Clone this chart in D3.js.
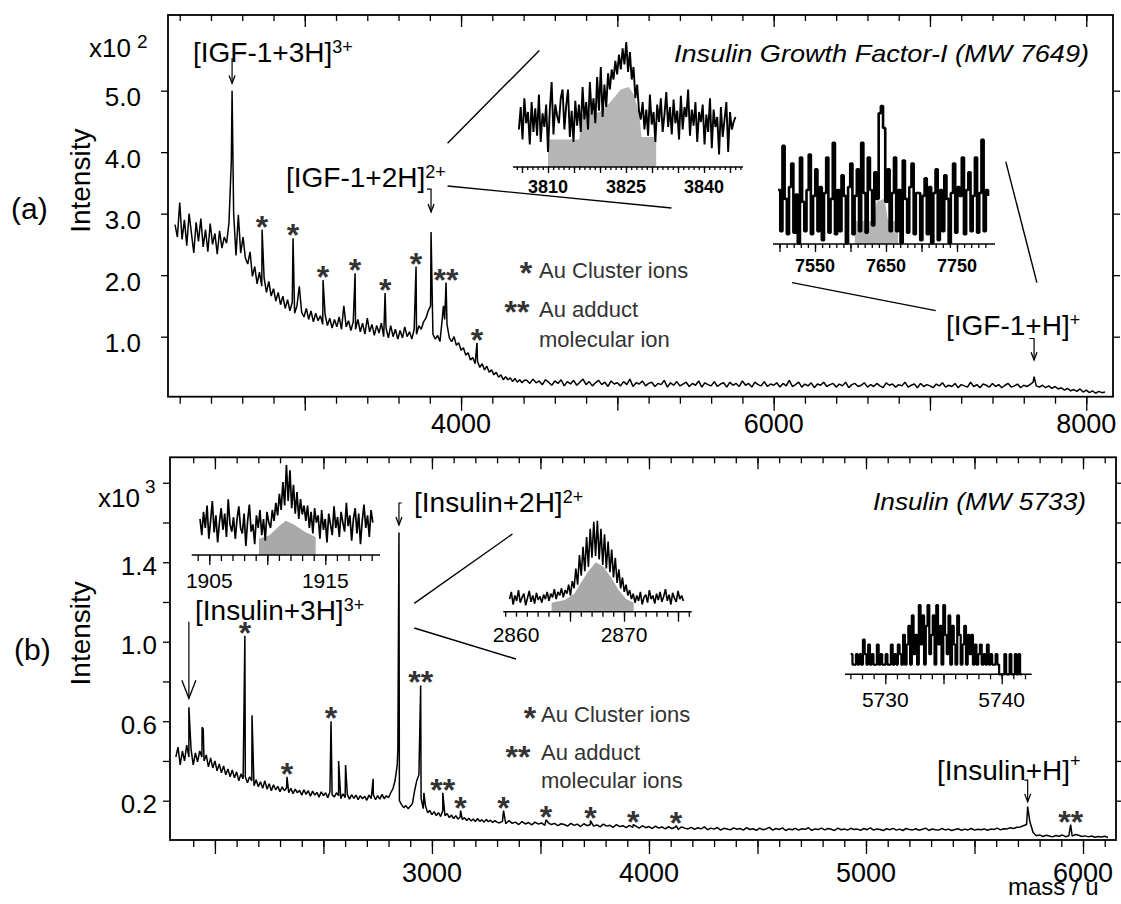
<!DOCTYPE html>
<html>
<head>
<meta charset="utf-8">
<script src="https://cdn.jsdelivr.net/npm/d3@7"></script>
<style>
  body { margin: 0; background: #fff; }
  svg text { font-family: "Liberation Sans", Arial, sans-serif; }
</style>
</head>
<body>
<svg id="chart" width="1121" height="904"></svg>
<script>
// ---------------- data ----------------

// (a) IGF-1 spectrum, intensity in units of 0.01 x10^2
const igfStart = 2170, igfStep = 15;
const igfBase = [
  282, 262, 318, 258, 290, 248, 300, 268, 236, 286,
  255, 292, 246, 274, 238, 284, 250, 268, 234, 272,
  244, 262, 252, 285, 384, 300, 232, 298, 236, 262,
  228, 218, 238, 198, 214, 186, 205, 182, 195, 172,
  190, 166, 178, 158, 172, 152, 166, 146, 160, 142,
  156, 138, 150, 182, 140, 132, 146, 128, 142, 124,
  138, 126, 134, 120, 136, 118, 130, 114, 128, 116,
  132, 112, 150, 116, 126, 110, 124, 112, 128, 108,
  122, 104, 130, 108, 120, 102, 118, 106, 122, 100,
  114, 98, 118, 100, 112, 96, 110, 98, 116, 100,
  108, 96, 112, 104, 118, 112, 124, 130, 142, 150,
  104, 96, 102, 92, 130, 128, 120, 98, 92, 100,
  86, 90, 78, 82, 70, 74, 62, 66, 56, 60,
  50, 56, 46, 52, 42, 46, 38, 42, 34, 38,
  30, 35, 30, 33, 27, 32, 26, 30, 25, 29
];
const igfTailStart = 4420, igfTailStep = 20;
const igfTail = [
  29, 24, 31, 25, 28, 22, 30, 26, 21, 28,
  24, 30, 20, 27, 23, 29, 21, 26, 31, 22,
  27, 20, 25, 29, 22, 26, 19, 28, 23, 25,
  20, 27, 22, 31, 19, 25, 23, 28, 20, 24,
  26, 19, 24, 22, 29, 18, 25, 21, 27, 20,
  23, 26, 19, 24, 21, 28, 18, 25, 22, 20,
  27, 19, 23, 25, 18, 26, 21, 24, 19, 28,
  21, 24, 18, 26, 22, 20, 27, 19, 23, 21,
  25, 18, 24, 20, 29, 19, 22, 26, 18, 23,
  20, 25, 17, 23, 21, 26, 19, 22, 24, 18,
  23, 20, 26, 17, 22, 24, 19, 21, 25, 18,
  22, 19, 24, 20, 17, 25, 21, 23, 18, 22,
  20, 26, 18, 21, 23, 17, 24, 19, 22, 20,
  17, 23, 20, 25, 18, 21, 19, 24, 17, 22,
  20, 18, 26, 19, 22, 17, 23, 21, 18, 24,
  19, 22, 17, 21, 24, 18, 20, 23, 17, 21,
  19, 22, 26, 20, 18, 21, 17, 20, 16, 19,
  15, 17, 13, 16, 12, 14, 11, 15, 10, 13,
  9, 12, 8, 11, 9, 10
];
// [mass, intensity, marker]
const igfPeaks = [
  [2535, 500, ''], [2727, 274, '*'], [2925, 260, '*'], [3117, 192, '*'],
  [3322, 203, '*'], [3514, 171, '*'], [3712, 214, '*'], [3808, 270, ''],
  [3887, 150, ''], [3904, 188, '**'], [4102, 90, '*'], [7666, 35, '']
];

// (b) insulin spectrum, intensity in units of 0.001 x10^3
const insStart = 1820, insStep = 10;
const insBase = [
  420, 470, 380, 450, 400, 480, 420, 460, 380, 440,
  395, 450, 420, 400, 430, 370, 415, 365, 400, 350,
  385, 340, 375, 330, 360, 320, 355, 315, 345, 300,
  335, 310, 320, 290, 320, 300, 275, 305, 270, 295,
  262, 300, 258, 285, 250, 280, 255, 272, 245, 270,
  250, 265, 240, 262, 235, 258, 240, 252, 228, 255,
  232, 250, 222, 248, 228, 242, 218, 245, 225, 240,
  215, 245, 230, 218, 240, 225, 210, 235, 215, 232,
  208, 230, 212, 228, 205, 225, 210, 222, 202, 228,
  210, 230, 205, 225, 208, 232, 210, 225, 215, 240,
  260, 300, 380, 200, 180, 165, 175, 160, 172, 185,
  250, 300, 330, 210, 160, 175, 140, 150, 130, 145,
  125, 140, 120, 150, 125, 135, 115, 128, 110, 125,
  108, 118, 105, 115, 100, 112, 98, 108, 95, 110,
  96, 104, 92, 106, 94, 102, 90, 100, 92
];
const insTailStart = 3310, insTailStep = 15;
const insTail = [
  88, 96, 84, 100, 86, 92, 80, 95, 83, 90,
  78, 92, 82, 88, 76, 90, 80, 86, 74, 84,
  80, 72, 86, 76, 82, 70, 84, 74, 80, 72,
  78, 68, 82, 72, 76, 66, 80, 70, 74, 64,
  76, 66, 72, 62, 74, 64, 70, 60, 72, 62,
  68, 58, 70, 60, 66, 56, 68, 62, 58, 66,
  56, 64, 58, 68, 54, 62, 57, 65, 52, 61,
  58, 53, 63, 56, 60, 52, 64, 55, 59, 51,
  62, 54, 58, 66, 52, 60, 55, 63, 50, 58,
  54, 61, 52, 59, 56, 64, 51, 58, 55, 62,
  53, 60, 56, 50, 62, 54, 58, 52, 61, 55,
  57, 51, 60, 54, 63, 52, 58, 55, 50, 59,
  54, 61, 52, 57, 50, 60, 55, 53, 59, 51,
  56, 62, 50, 58, 54, 52, 60, 53, 57, 50,
  55, 59, 51, 57, 53, 60, 52, 56, 54, 58,
  51, 57, 55, 62, 53, 59, 58, 64, 60, 66,
  68, 74, 80, 95, 40, 24, 28, 20, 26, 22,
  18, 25, 21, 27, 19, 24, 22, 30, 26, 20,
  23, 18, 22, 16, 20, 17, 21, 15
];
const insPeaks = [
  [1880, 670, ''], [1941, 570, ''], [1946, 560, ''], [2138, 1030, '*'],
  [2171, 630, ''], [2332, 320, '*'], [2535, 600, '*'], [2570, 400, ''],
  [2602, 380, ''], [2729, 310, ''], [2843, 460, ''], [2848, 1550, ''],
  [2948, 780, '**'], [2963, 240, ''], [3050, 240, '**'], [3132, 150, '*'],
  [3330, 150, '*'], [3526, 104, '*'], [3730, 100, '*'], [3928, 80, '*'],
  [4125, 75, '*'], [5745, 170, ''], [5943, 80, '**']
];

// zoomed insets, relative intensity 0-100
const zoomA1 = [
  30, 48, 22, 55, 35, 44, 18, 52, 28, 47, 25, 58, 20, 43, 32, 50,
  12, 46, 68, 26, 50, 41, 35, 55, 62, 30, 49, 62, 24, 45, 20, 53, 33,
  50, 28, 64, 38, 52, 30, 68, 42, 55, 35, 72, 45, 80, 40, 66, 48, 75,
  62, 78, 70, 85, 74, 90, 78, 95, 82, 100, 76, 92, 70, 80, 55, 66, 45,
  38, 52, 30, 46, 25, 58, 34, 44, 20, 50, 36, 55, 28, 42, 60, 32, 48,
  26, 54, 35, 45, 22, 57, 30, 48, 40, 62, 25, 46, 33, 52, 20, 44, 36,
  50, 18, 42, 28, 55, 15, 46, 32, 40, 10, 48, 24, 38, 52, 12, 44, 30, 36, 40
];
const zoomA1Fill = [[3810, 22], [3816, 22], [3816.5, 42], [3820, 44], [3822, 52], [3824, 62],
  [3825.5, 64], [3826.5, 58], [3827.5, 43], [3828, 24], [3830.8, 24]];

const zoomA2 = [
  48, 20, 78, 42, 18, 50, 66, 19, 45, 12, 70, 40, 20, 48, 72, 18,
  44, 62, 20, 50, 14, 46, 70, 19, 42, 80, 18, 48, 20, 58, 44, 12,
  50, 66, 18, 44, 62, 20, 80, 46, 19, 70, 48, 24, 60, 42, 100, 105,
  90, 40, 62, 20, 46, 70, 20, 48, 12, 68, 42, 19, 50, 66, 18, 46,
  46, 14, 44, 56, 18, 50, 12, 46, 62, 14, 48, 20, 58, 42, 12, 46,
  66, 19, 50, 44, 70, 18, 48, 60, 20, 44, 70, 19, 46, 82, 20, 48,
  44
];
const zoomA2Fill = [[7606, 27], [7632, 27], [7637, 40], [7648, 42], [7653, 27], [7667, 27]];

const zoomB1 = [
  40, 22, 48, 30, 55, 18, 38, 60, 25, 44, 14, 36, 52, 28, 46, 20, 62, 34, 26, 42,
  18, 40, 54, 30, 24, 46, 10, 38, 56, 26, 34, 12, 44, 30, 50, 22, 40, 16, 48, 36,
  30, 50, 38, 58, 44, 68, 50, 81, 55, 100, 60, 94, 52, 78, 46, 70, 40, 62, 45, 55,
  38, 55, 30, 48, 24, 52, 36, 44, 18, 50, 28, 40, 14, 46, 34, 22, 54, 30, 42, 20,
  48, 36, 26, 58, 32, 44, 16, 40, 52, 24, 46, 12, 38, 56, 30, 44, 20, 50, 36
];
const zoomB1Fill = [[1909.28, 18], [1910.2, 22], [1911, 32], [1911.6, 38], [1912.3, 34],
  [1913.2, 26], [1914.17, 20]];

const zoomB2 = [
  14, 22, 8, 18, 12, 24, 10, 16, 20, 7, 15, 23, 11, 18, 9, 21, 13, 17, 10, 19,
  14, 22, 12, 20, 16, 25, 14, 22, 18, 26, 16, 24, 20, 30, 18, 34, 26, 48, 30, 63,
  40, 72, 45, 83, 50, 92, 60, 100, 62, 101, 58, 92, 52, 86, 48, 78, 44, 69, 38, 60,
  32, 47, 26, 38, 22, 30, 18, 24, 14, 20, 10, 18, 12, 22, 8, 16, 19, 10, 24, 14,
  18, 9, 20, 13, 22, 11, 17, 25, 12, 19, 8, 21, 15, 11, 23, 14, 18, 12
];
const zoomB2Fill = [[2863.3, 10], [2864.5, 13], [2865.4, 20], [2866, 32], [2866.7, 45],
  [2867.4, 55], [2868.1, 50], [2868.8, 38], [2869.5, 24], [2870.2, 14], [2870.9, 10]];

const zoomB3 = [
  29, 14, 14, 29, 14, 29, 14, 50, 29, 14, 43, 14, 29, 14, 14, 43, 14, 29, 14, 14,
  29, 14, 14, 43, 14, 29, 14, 43, 29, 14, 57, 14, 43, 70, 14, 85, 29, 57, 14, 100,
  43, 85, 14, 70, 100, 29, 57, 85, 14, 100, 43, 70, 14, 100, 57, 29, 85, 14, 70, 43,
  14, 85, 57, 14, 43, 70, 14, 57, 29, 57, 14, 43, 14, 29, 43, 14, 29, 14, 43, 14,
  29, 14, 14, 29, 14, 0, 0, 0, 29, 0, 0, 29, 0, 0, 29, 0, 29, 0, 0
];

// ---------------- helpers ----------------
const series = (start, step, vals) => vals.map((v, i) => [start + i * step, v]);
const merge = (...parts) => parts.flat().sort((a, b) => a[0] - b[0]);

const svg = d3.select('#chart');
const FONT_LABEL = 28;
const STAR_SIZE = 32;

const panels = [
  {
    id: 'a',
    box: { left: 168, right: 1113, top: 15, bottom: 396.7 },
    xDomain: [2125, 8171], yDomain: [0.024, 6.23], unit: 100,
    spectrum: merge(series(igfStart, igfStep, igfBase), series(igfTailStart, igfTailStep, igfTail),
      igfPeaks.map(p => [p[0], p[1]])),
    peaks: igfPeaks,
    xMinor: d3.range(2200, 8001, 200), xMajor: d3.range(3000, 8001, 1000),
    xLabels: [4000, 6000, 8000], xLabelY: 433,
    yTicks: [1, 2, 3, 4, 5], yLabels: [1, 2, 3, 4, 5], yFormat: d3.format('.1f'),
    yLabelX: 141, yLabelDy: 15.5,
    // [peak mass, hook start mass, value at top, value at tip, head size]
    arrows: [[2535, 2535, 5.53, 5.12, 3], [3808, 3782, 3.40, 3.03, 3], [7666, 7636, 0.97, 0.62, 3]],
    leaders: [[3913.6, 4.145, 4501, 5.654], [3913.6, 3.45, 5346, 3.093],
      [6117.7, 1.878, 7037, 1.423], [7485, 3.846, 7684, 1.878]],
    texts: [
      { x: 89, y: 56.7, t: 'x10', size: 26 }, { x: 137, y: 48.3, t: '2', size: 19 },
      { x: 11, y: 219, t: '(a)', size: 30 },
      { x: 193, y: 61.7, t: '[IGF-1+3H]', sup: '3+' },
      { x: 286, y: 186.7, t: '[IGF-1+2H]', sup: '2+' },
      { x: 946, y: 335, t: '[IGF-1+H]', sup: '+' },
      { x: 674, y: 61.7, t: 'Insulin Growth Factor-I (MW 7649)', size: 24, italic: true, len: 415 },
      { x: 539, y: 278, t: 'Au Cluster ions', size: 22, fill: '#333' },
      { x: 539, y: 316.7, t: 'Au adduct', size: 22, fill: '#333' },
      { x: 539, y: 346.7, t: 'molecular ion', size: 22, fill: '#333' }
    ],
    ylabel: { x: 89.5, y: 180.7 },
    legendStars: [{ x: 526, y: 270, t: '*' }, { x: 517, y: 309, t: '**' }],
    insets: [
      { values: series(3804.4, 0.35, zoomA1), fill: zoomA1Fill, curve: d3.curveLinear,
        mAt: [3810, 3825], xAt: [548, 626], xRange: [513, 743], axisY: 167, yRange: [167, 42],
        minor: d3.range(3804, 3848, 1), major: d3.range(3805, 3848, 5), minorLen: 3, majorLen: 6,
        labels: [3810, 3825, 3840], labelY: 193.3, labelSize: 18, bold: true, sw: 1.9, gray: '#b5b5b5' },
      { values: series(7498, 3.08, zoomA2), fill: zoomA2Fill, curve: d3.curveStepAfter,
        mAt: [7550, 7650], xAt: [815, 886], xRange: [773, 995], axisY: 244, yRange: [260.8, 113.3],
        minor: d3.range(7500, 7791, 10), major: d3.range(7500, 7791, 50), minorLen: 4, majorLen: 8,
        labels: [7550, 7650, 7750], labelY: 271.7, labelSize: 18, bold: true, sw: 2.6, gray: '#b5b5b5' }
    ]
  },
  {
    id: 'b',
    box: { left: 170, right: 1116, top: 457.3, bottom: 840 },
    xDomain: [1793, 6152], yDomain: [0.0022, 1.928], unit: 1000,
    spectrum: merge(series(insStart, insStep, insBase), series(insTailStart, insTailStep, insTail),
      insPeaks.map(p => [p[0], p[1]])),
    peaks: insPeaks,
    xMinor: d3.range(1900, 6101, 100), xMajor: d3.range(2000, 6001, 500),
    xLabels: [3000, 4000, 5000, 6000], xLabelY: 881.7,
    yTicks: d3.range(0.2, 1.81, 0.2), yLabels: [0.2, 0.6, 1.0, 1.4], yFormat: d3.format('.1f'),
    yLabelX: 157, yLabelDy: 12.5,
    arrows: [[1880, 1880, 1.101, 0.715, 7], [2848, 2861, 1.698, 1.588, 3], [5745, 5730, 0.304, 0.195, 3]],
    leaders: [[2918.4, 1.193, 3371, 1.542], [2918.4, 1.069, 3387, 0.913]],
    texts: [
      { x: 98, y: 506.7, t: 'x10', size: 26 }, { x: 145, y: 493.3, t: '3', size: 19 },
      { x: 14, y: 660, t: '(b)', size: 30 },
      { x: 195, y: 620, t: '[Insulin+3H]', sup: '3+' },
      { x: 414, y: 512, t: '[Insulin+2H]', sup: '2+' },
      { x: 937, y: 780, t: '[Insulin+H]', sup: '+', supDy: -13 },
      { x: 873, y: 510, t: 'Insulin (MW 5733)', size: 24, italic: true, len: 213 },
      { x: 541, y: 721.7, t: 'Au Cluster ions', size: 22, fill: '#333' },
      { x: 541, y: 760, t: 'Au adduct', size: 22, fill: '#333' },
      { x: 541, y: 788.3, t: 'molecular ions', size: 22, fill: '#333' },
      { x: 1008, y: 895, t: 'mass / u', size: 24 }
    ],
    ylabel: { x: 89.5, y: 633.3 },
    legendStars: [{ x: 530, y: 715, t: '*' }, { x: 518, y: 754, t: '**' }],
    insets: [
      { values: series(1904.2, 0.152, zoomB1), fill: zoomB1Fill, curve: d3.curveLinear,
        mAt: [1905, 1915], xAt: [209.3, 325.3], xRange: [191.7, 380], axisY: 555, yRange: [555, 465],
        minor: d3.range(1904, 1920, 1), major: [1905, 1910, 1915], minorLen: 6, majorLen: 10,
        labels: [1905, 1915], labelY: 588.3, labelSize: 21, bold: false, sw: 1.7, gray: '#a9a9a9' },
      { values: series(2859.4, 0.166, zoomB2), fill: zoomB2Fill, curve: d3.curveLinear,
        mAt: [2860, 2870], xAt: [516, 624], xRange: [503.3, 691.7], axisY: 611.7, yRange: [611.7, 521.7],
        minor: d3.range(2859, 2877, 1), major: [2865, 2870, 2875], minorLen: 5, majorLen: 10,
        labels: [2860, 2870], labelY: 641.7, labelSize: 21, bold: false, sw: 1.6, gray: '#a9a9a9' },
      { values: series(5727.03, 0.15, zoomB3), fill: null, curve: d3.curveStepAfter,
        mAt: [5730, 5740], xAt: [885.3, 1001.7], xRange: [845, 1031.7], axisY: 674.3, yRange: [674.3, 605],
        minor: d3.range(5727, 5743, 1), major: [5730, 5735, 5740], minorLen: 5, majorLen: 10,
        labels: [5730, 5740], labelY: 706.7, labelSize: 21, bold: false, sw: 2.2, gray: null }
    ]
  }
];

// ---------------- drawing ----------------
function stripDomain(sel) { sel.select('.domain').remove(); sel.selectAll('line').attr('stroke-width', 1.3); }

function drawInset(g, ins) {
  const ix = d3.scaleLinear().domain(ins.mAt).range(ins.xAt);
  const iy = d3.scaleLinear().domain([0, 100]).range(ins.yRange);

  if (ins.fill) {
    g.append('path').datum(ins.fill)
      .attr('d', d3.area().x(d => ix(d[0])).y0(ins.axisY).y1(d => iy(d[1])))
      .attr('fill', ins.gray);
  }
  g.append('path').datum(ins.values)
    .attr('d', d3.line().x(d => ix(d[0])).y(d => iy(d[1])).curve(ins.curve))
    .attr('fill', 'none').attr('stroke', '#000').attr('stroke-width', ins.sw)
    .attr('stroke-linejoin', 'bevel');

  g.append('line').attr('x1', ins.xRange[0]).attr('x2', ins.xRange[1])
    .attr('y1', ins.axisY).attr('y2', ins.axisY).attr('stroke', '#000').attr('stroke-width', 1.6);

  const ticks = (vals, len) => g.append('g').attr('transform', `translate(0,${ins.axisY})`)
    .call(d3.axisBottom(ix).tickValues(vals).tickSize(len).tickFormat(''))
    .call(stripDomain);
  ticks(ins.minor, ins.minorLen);
  ticks(ins.major, ins.majorLen);

  g.selectAll(null).data(ins.labels).join('text')
    .attr('x', d => ix(d)).attr('y', ins.labelY)
    .attr('text-anchor', 'middle')
    .attr('font-size', ins.labelSize)
    .attr('font-weight', ins.bold ? 'bold' : 'normal')
    .text(d => d);
}

function drawPanel(p) {
  const g = svg.append('g').attr('class', 'panel-' + p.id);
  const b = p.box;
  const x = d3.scaleLinear().domain(p.xDomain).range([b.left, b.right]);
  const y = d3.scaleLinear().domain(p.yDomain).range([b.bottom, b.top]);

  // main spectrum
  g.append('path').datum(p.spectrum)
    .attr('d', d3.line().x(d => x(d[0])).y(d => y(d[1] / p.unit)))
    .attr('fill', 'none').attr('stroke', '#000').attr('stroke-width', 1.5)
    .attr('stroke-linejoin', 'bevel');

  // frame
  g.append('rect').attr('x', b.left).attr('y', b.top)
    .attr('width', b.right - b.left).attr('height', b.bottom - b.top)
    .attr('fill', 'none').attr('stroke', '#000').attr('stroke-width', 1.8);

  const xAxis = (yPos, vals, len) => g.append('g').attr('transform', `translate(0,${yPos})`)
    .call(d3.axisBottom(x).tickValues(vals).tickSize(len).tickFormat(''))
    .call(stripDomain);
  xAxis(b.bottom, p.xMinor, 7);
  xAxis(b.bottom, p.xMajor, 14);
  xAxis(b.top, p.xMinor, 6);
  xAxis(b.top, p.xMajor, 12);

  g.append('g').attr('transform', `translate(${b.left},0)`)
    .call(d3.axisLeft(y).tickValues(p.yTicks).tickSize(7).tickFormat('')).call(stripDomain);
  g.append('g').attr('transform', `translate(${b.right},0)`)
    .call(d3.axisRight(y).tickValues(p.yTicks).tickSize(7).tickFormat('')).call(stripDomain);

  g.selectAll(null).data(p.xLabels).join('text')
    .attr('x', d => x(d)).attr('y', p.xLabelY)
    .attr('text-anchor', 'middle').attr('font-size', 27).text(d => d);

  g.selectAll(null).data(p.yLabels).join('text')
    .attr('x', p.yLabelX).attr('y', d => y(d) + p.yLabelDy)
    .attr('text-anchor', 'end').attr('font-size', 26).text(d => p.yFormat(d));

  // axis title
  g.append('text').attr('transform', `translate(${p.ylabel.x},${p.ylabel.y}) rotate(-90)`)
    .attr('text-anchor', 'middle').attr('font-size', 28).text('Intensity');

  // asterisks on peaks
  g.selectAll(null).data(p.peaks.filter(d => d[2])).join('text')
    .attr('x', d => x(d[0])).attr('y', d => y(d[1] / p.unit) + 8)
    .attr('text-anchor', 'middle').attr('font-size', STAR_SIZE).attr('font-weight', 'bold')
    .attr('fill', '#333').text(d => d[2]);

  g.selectAll(null).data(p.legendStars).join('text')
    .attr('x', d => d.x).attr('y', d => d.y + 14)
    .attr('text-anchor', 'middle').attr('font-size', STAR_SIZE).attr('font-weight', 'bold')
    .attr('fill', '#333').text(d => d.t);

  // arrows pointing at the molecular ions
  p.arrows.forEach(([m, hook, vTop, vTip, h]) => {
    const ax = x(m), yTop = y(vTop), yTip = y(vTip);
    g.append('path').attr('d', `M${x(hook)},${yTop}L${ax},${yTop}L${ax},${yTip}`)
      .attr('fill', 'none').attr('stroke', '#000').attr('stroke-width', 1.2);
    g.append('path').attr('d', `M${ax - h},${yTip - 2.6 * h}L${ax},${yTip}L${ax + h},${yTip - 2.6 * h}`)
      .attr('fill', 'none').attr('stroke', '#000').attr('stroke-width', 1.3);
  });

  // leader lines to the zoomed insets
  g.selectAll(null).data(p.leaders).join('line')
    .attr('x1', d => x(d[0])).attr('y1', d => y(d[1]))
    .attr('x2', d => x(d[2])).attr('y2', d => y(d[3]))
    .attr('stroke', '#000').attr('stroke-width', 1.4);

  p.insets.forEach(ins => drawInset(g, ins));

  // text annotations
  p.texts.forEach(t => {
    const el = g.append('text').attr('x', t.x).attr('y', t.y)
      .attr('font-size', t.size || FONT_LABEL)
      .attr('fill', t.fill || '#000');
    if (t.italic) el.attr('font-style', 'italic');
    if (t.len) el.attr('textLength', t.len).attr('lengthAdjust', 'spacingAndGlyphs');
    el.append('tspan').text(t.t);
    if (t.sup) el.append('tspan').attr('font-size', 18).attr('dy', t.supDy || -9).text(t.sup);
  });
}

panels.forEach(drawPanel);
</script>
</body>
</html>
